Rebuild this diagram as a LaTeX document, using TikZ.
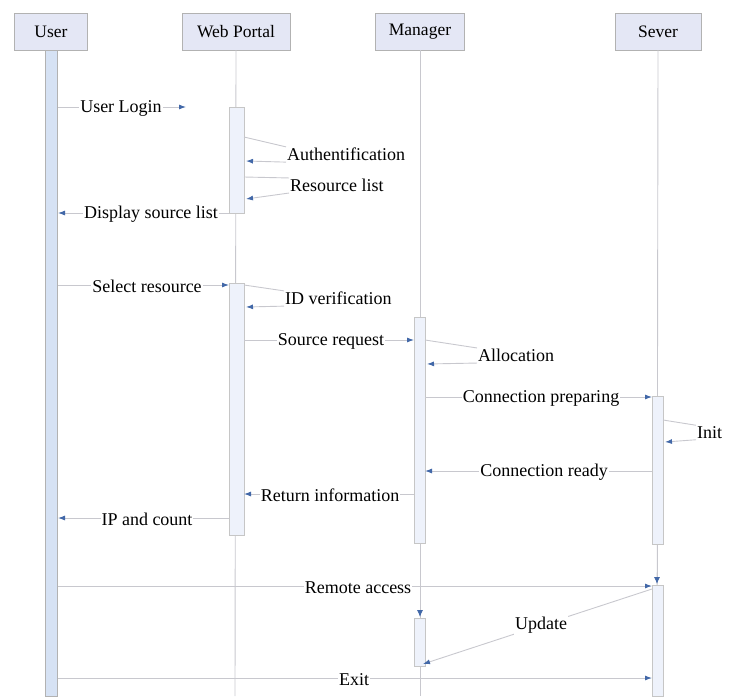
\documentclass[tikz,border=0pt]{standalone}
\usepackage{fontspec}
\setmainfont{Liberation Serif}
\usetikzlibrary{arrows.meta}
\definecolor{headfill}{RGB}{228,231,245}
\definecolor{userbar}{RGB}{214,226,244}
\definecolor{barfill}{RGB}{238,242,251}
\definecolor{linegray}{RGB}{200,200,206}
\definecolor{tipblue}{RGB}{66,104,168}
\tikzset{
  head/.style={draw=gray!60, fill=headfill, inner sep=0pt, minimum height=37pt, font=\fontsize{17.5}{19}\selectfont},
  actbar/.style={draw=gray!45, fill=barfill, inner sep=0pt, anchor=north},
  life/.style={draw=linegray, line width=0.9pt},
  msg/.style={draw=linegray, line width=0.9pt, -{Latex[length=7pt,width=5pt,color=tipblue,fill=tipblue]}},
  lbl/.style={fill=white, inner sep=1pt, yshift=-1.5pt, font=\fontsize{18}{20}\selectfont},
}
\begin{document}
\begin{tikzpicture}[x=1pt,y=-1pt]
\useasboundingbox (0,0) rectangle (736,696);

% lifelines
\node[head, minimum width=73pt] (user) at (51,31.5) {User};
\node[head, minimum width=108pt] (portal) at (236,31.5) {Web Portal};
\node[head, minimum width=89pt] (manager) at (420,31.5) {Manager};
\node[head, minimum width=86pt] (sever) at (658,31.5) {Sever};

\draw[life] (portal.south) -- (235,696);
\draw[life] (manager.south) -- (420,696);
\draw[life] (sever.south) -- (657,696);
\draw[life, -{Latex[length=7pt,width=6pt,color=tipblue,fill=tipblue]}] (420,545) -- (420,617);
\draw[life, -{Latex[length=7pt,width=6pt,color=tipblue,fill=tipblue]}] (657,545) -- (657,584);

% activation bars
\node[actbar, fill=userbar, draw=gray!60, minimum width=12pt, minimum height=646pt] (userA) at (51.5,50) {};
\node[actbar, minimum width=15pt, minimum height=106pt] (portalA) at (236.5,107) {};
\node[actbar, minimum width=15pt, minimum height=252pt] (portalB) at (236.5,283) {};
\node[actbar, minimum width=11pt, minimum height=226pt] (managerA) at (419.5,317) {};
\node[actbar, minimum width=11pt, minimum height=48pt] (managerB) at (419.5,618) {};
\node[actbar, minimum width=11pt, minimum height=148pt] (severA) at (658,396) {};
\node[actbar, minimum width=11pt, minimum height=111pt] (severB) at (658,585) {};

% message ends
\coordinate (login-s) at (57.5,107);
\coordinate (login-e) at (186,107);
\coordinate (auth-s) at (244,137);
\coordinate (auth-e) at (246,161);
\coordinate (res-s) at (244,177);
\coordinate (res-e) at (246,199);
\coordinate (disp-s) at (229,213);
\coordinate (disp-e) at (58,213);
\coordinate (sel-s) at (57.5,285);
\coordinate (sel-e) at (229,285);
\coordinate (idv-s) at (244,285);
\coordinate (idv-e) at (246,307);
\coordinate (req-s) at (244,340);
\coordinate (req-e) at (414,340);
\coordinate (alloc-s) at (425,340);
\coordinate (alloc-e) at (427,364);
\coordinate (prep-s) at (425,397);
\coordinate (prep-e) at (652,397);
\coordinate (init-s) at (663,420);
\coordinate (init-e) at (665,442);
\coordinate (ready-s) at (652,471);
\coordinate (ready-e) at (425,471);
\coordinate (ret-s) at (414,494);
\coordinate (ret-e) at (244,494);
\coordinate (ip-s) at (229,518);
\coordinate (ip-e) at (58,518);
\coordinate (rem-s) at (57.5,586);
\coordinate (rem-e) at (652,586);
\coordinate (upd-s) at (652,589);
\coordinate (upd-e) at (423,664);
\coordinate (exit-s) at (57.5,678);
\coordinate (exit-e) at (652,678);

% messages
\draw[msg] (login-s) -- (login-e);
\node[lbl] (login) at (121,107) {User Login};

\node[lbl, anchor=west] (auth) at (286,153) {Authentification};
\draw[life] (auth-s) -- (auth.north west);
\draw[msg] (auth.south west) -- (auth-e);

\node[lbl, anchor=west] (res) at (289,184) {Resource list};
\draw[life] (res-s) -- (res.north west);
\draw[msg] (res.south west) -- (res-e);

\draw[msg] (disp-s) -- (disp-e);
\node[lbl] (disp) at (151,213) {Display source list};

\draw[msg] (sel-s) -- (sel-e);
\node[lbl] (sel) at (147,285) {Select resource};

\node[lbl, anchor=west] (idv) at (284,297) {ID verification};
\draw[life] (idv-s) -- (idv.north west);
\draw[msg] (idv.south west) -- (idv-e);

\draw[msg] (req-s) -- (req-e);
\node[lbl] (req) at (331,340) {Source request};

\node[lbl, anchor=west] (alloc) at (477,354) {Allocation};
\draw[life] (alloc-s) -- (alloc.north west);
\draw[msg] (alloc.south west) -- (alloc-e);

\draw[msg] (prep-s) -- (prep-e);
\node[lbl] (prep) at (541,397) {Connection preparing};

\node[lbl, anchor=west] (init) at (696,431) {Init};
\draw[life] (init-s) -- (init.north west);
\draw[msg] (init.south west) -- (init-e);

\draw[msg] (ready-s) -- (ready-e);
\node[lbl] (ready) at (544,471) {Connection ready};

\draw[msg] (ret-s) -- (ret-e);
\node[lbl] (ret) at (330,494) {Return information};

\draw[msg] (ip-s) -- (ip-e);
\node[lbl] (ip) at (147,518) {IP and count};

\draw[msg] (rem-s) -- (rem-e);
\node[lbl] (rem) at (358,586) {Remote access};

\draw[msg] (upd-s) -- (upd-e);
\node[lbl] (upd) at (541,624) {Update};

\draw[msg] (exit-s) -- (exit-e);
\node[lbl] (exit) at (354,678) {Exit};
\end{tikzpicture}
\end{document}
